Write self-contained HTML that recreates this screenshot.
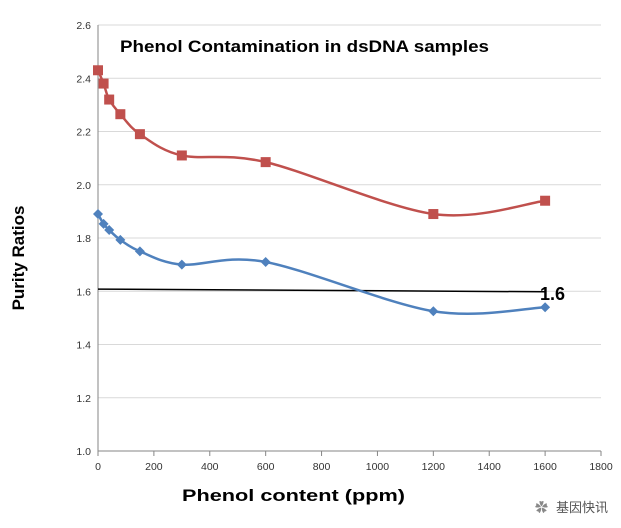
<!DOCTYPE html>
<html><head><meta charset="utf-8"><style>
body{margin:0;background:#fff;}
svg{display:block;font-family:"Liberation Sans","Noto Sans CJK SC",sans-serif;}
</style></head><body>
<svg id="chart" width="621" height="528">
<text x="120" y="52" font-size="17" font-weight="bold" fill="#000" textLength="369" lengthAdjust="spacingAndGlyphs">Phenol Contamination in dsDNA samples</text>
<text x="24" y="258" font-size="17" font-weight="bold" transform="rotate(-90 24 258)" text-anchor="middle">Purity Ratios</text>
<text x="182" y="501" font-size="17" font-weight="bold" textLength="223" lengthAdjust="spacingAndGlyphs">Phenol content (ppm)</text>
<g id="grid"></g><g id="axes"></g><g id="series"></g>
<text x="556" y="512" font-size="13" fill="#555">基因快讯</text>
<text x="535" y="512" font-size="13" fill="#888">✿</text>
</svg>
<script>
const xVals=[0,20,40,80,150,300,600,1200,1600];
const redVals=[2.43,2.38,2.32,2.265,2.19,2.11,2.085,1.89,1.94];
const blueVals=[1.89,1.853,1.83,1.793,1.75,1.70,1.71,1.525,1.54];
const refX=[0,1600];
const refVals=[1.608,1.598];
const yTicks=[1.0,1.2,1.4,1.6,1.8,2.0,2.2,2.4,2.6];
const xTicks=[0,200,400,600,800,1000,1200,1400,1600,1800];
const NS="http://www.w3.org/2000/svg";
const X=v=>98+v*(601-98)/1800;
const Y=v=>451-(v-1.0)*(451-25)/1.6;
function mk(tag,attrs,parent){const e=document.createElementNS(NS,tag);for(const k in attrs)e.setAttribute(k,attrs[k]);parent.appendChild(e);return e;}
const grid=document.getElementById('grid'),axes=document.getElementById('axes'),ser=document.getElementById('series');
yTicks.forEach(t=>{
 const l=mk('line',{x1:98,x2:601,y1:Y(t),y2:Y(t),stroke:'#d9d9d9','stroke-width':1},grid);
 
 
 const tx=mk('text',{x:91,y:Y(t)+4,'font-size':10.5,'text-anchor':'end',fill:'#333'},axes);
 tx.textContent=t.toFixed(1);
 
 
});
xTicks.forEach(t=>{
 const tx=mk('text',{x:X(t),y:470,'font-size':10.5,'text-anchor':'middle',fill:'#333'},axes);
 tx.textContent=t;
 
 
 const tk=mk('line',{x1:X(t),x2:X(t),y1:451,y2:456,stroke:'#868686'},axes);
 
 
});
const ya=mk('line',{x1:98,x2:98,y1:25,y2:451,stroke:'#868686'},axes);


const xa=mk('line',{x1:98,x2:601,y1:451,y2:451,stroke:'#868686'},axes);


function smooth(pts){let d=`M${pts[0][0]},${pts[0][1]}`;for(let i=0;i<pts.length-1;i++){const p0=pts[i-1]||pts[i],p1=pts[i],p2=pts[i+1],p3=pts[i+2]||p2;const t=0.16;const c1=[p1[0]+(p2[0]-p0[0])*t,p1[1]+(p2[1]-p0[1])*t];const c2=[p2[0]-(p3[0]-p1[0])*t,p2[1]-(p3[1]-p1[1])*t];d+=` C${c1[0]},${c1[1]} ${c2[0]},${c2[1]} ${p2[0]},${p2[1]}`;}return d;}
const rl=mk('line',{x1:X(refX[0]),y1:Y(refVals[0]),x2:X(refX[1]),y2:Y(refVals[1]),stroke:'#000','stroke-width':1.5},ser);


const rt=mk('text',{x:540,y:300,'font-size':18,'font-weight':'bold',fill:'#000'},ser);
rt.textContent='1.6';


function series(vals,color,name,marker){
 const pts=xVals.map((x,i)=>[X(x),Y(vals[i])]);
 const p=mk('path',{d:smooth(pts),fill:'none',stroke:color,'stroke-width':2.5},ser);
 
 
 pts.forEach(([x,y])=>{
  let m;
  if(marker==='sq') m=mk('rect',{x:x-5,y:y-5,width:10,height:10,fill:color},ser);
  else m=mk('polygon',{points:`${x},${y-5} ${x+5},${y} ${x},${y+5} ${x-5},${y}`,fill:color},ser);
  
  
 });
}
series(redVals,'#c0504d','a260-280','sq');
series(blueVals,'#4f81bd','a260-230','dia');
</script>
</body></html>
